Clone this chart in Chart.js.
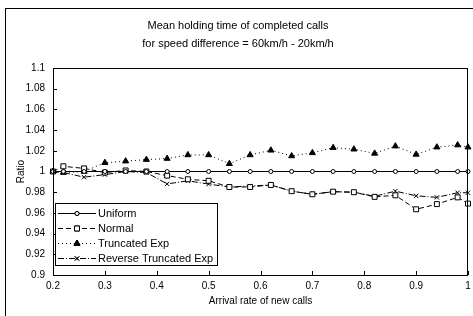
<!DOCTYPE html>
<html lang="en">
<head>
<meta charset="UTF-8">
<title>Mean holding time of completed calls</title>
<script src="https://cdn.jsdelivr.net/npm/chart.js"></script>
<style>
  html, body { margin: 0; padding: 0; background: #fff; }
  #wrap { width: 473px; height: 316px; }
</style>
</head>
<body>
<div id="wrap"><canvas id="grafico"></canvas></div>
<script>
// arrival rate of new calls
const arrivalRate = [0.2, 0.22, 0.26, 0.30, 0.34, 0.38, 0.42, 0.46, 0.50, 0.54, 0.58,
                     0.62, 0.66, 0.70, 0.74, 0.78, 0.82, 0.86, 0.90, 0.94, 0.98, 1.0];

const uniform = [1, 1, 1, 1, 1, 1, 1, 1, 1, 1, 1, 1, 1, 1, 1, 1, 1, 1, 1, 1, 1, 1];
const normal = [1.0, 1.005, 1.003, 0.999, 1.001, 1.0, 0.996, 0.9925, 0.991, 0.985, 0.985,
                0.987, 0.981, 0.978, 0.9805, 0.98, 0.9755, 0.977, 0.9635, 0.9685, 0.975, 0.969];
const truncatedExp = [1.0, 0.999, 1.0, 1.0085, 1.01, 1.0115, 1.0125, 1.016, 1.016, 1.0075, 1.016,
                      1.0205, 1.015, 1.018, 1.023, 1.0215, 1.0175, 1.0245, 1.0165, 1.0235, 1.0255, 1.0235];
const reverseTruncatedExp = [1.0, 0.999, 0.9945, 0.997, 1.0, 0.999, 0.988, 0.991, 0.9878, 0.985, 0.986,
                             0.987, 0.981, 0.978, 0.9805, 0.98, 0.976, 0.981, 0.9765, 0.975, 0.9795, 0.9795];

const seriesNames = ['Uniform', 'Normal', 'Truncated Exp', 'Reverse Truncated Exp'];
const xTicks = [0.2, 0.3, 0.4, 0.5, 0.6, 0.7, 0.8, 0.9, 1];
const yTicks = [0.9, 0.92, 0.94, 0.96, 0.98, 1, 1.02, 1.04, 1.06, 1.08, 1.1];

const fonte = "'Liberation Sans', Arial, sans-serif";

function pares(valores) {
    return arrivalRate.map((x, i) => ({ x: x, y: valores[i] }));
}

// outer frame of the chart
const moldura = {
    id: 'moldura',
    beforeDraw(chart) {
        const ctx = chart.ctx;
        ctx.save();
        ctx.fillStyle = '#fff';
        ctx.fillRect(0, 0, chart.width, chart.height);
        ctx.strokeStyle = '#000';
        ctx.lineWidth = 1;
        ctx.strokeRect(5.5, 8.5, chart.width + 10, chart.height + 10);
        ctx.restore();
    },
    afterDatasetsDraw(chart) {
        const a = chart.chartArea;
        const ctx = chart.ctx;
        ctx.save();
        ctx.strokeStyle = '#000';
        ctx.lineWidth = 1;
        ctx.setLineDash([]);
        ctx.strokeRect(Math.round(a.left) + 0.5, Math.round(a.top) + 0.5,
                       Math.round(a.right - a.left) - 1, Math.round(a.bottom - a.top));
        // inner tick marks
        const sx = chart.scales.x, sy = chart.scales.y;
        ctx.beginPath();
        sy.ticks.forEach(t => {
            const y = Math.round(sy.getPixelForValue(t.value)) + 0.5;
            ctx.moveTo(a.left, y);
            ctx.lineTo(a.left + 4, y);
        });
        sx.ticks.forEach(t => {
            const x = Math.round(sx.getPixelForValue(t.value)) + 0.5;
            ctx.moveTo(x, a.bottom);
            ctx.lineTo(x, a.bottom - 4);
        });
        ctx.stroke();
        ctx.restore();
    }
};

// legend box inside the plot
const legenda = {
    id: 'legenda',
    afterDraw(chart) {
        const ctx = chart.ctx;
        const box = { x: 55.5, y: 203.5, w: 162, h: 62 };
        ctx.save();
        ctx.fillStyle = '#fff';
        ctx.fillRect(box.x, box.y, box.w, box.h);
        ctx.strokeStyle = '#000';
        ctx.lineWidth = 1;
        ctx.setLineDash([]);
        ctx.strokeRect(box.x, box.y, box.w, box.h);
        ctx.font = '11px ' + fonte;
        ctx.textBaseline = 'middle';
        chart.data.datasets.forEach((ds, i) => {
            const y = 213.5 + i * 15;
            ctx.strokeStyle = '#000';
            ctx.setLineDash(ds.borderDash || []);
            ctx.beginPath();
            ctx.moveTo(58, y);
            ctx.lineTo(96, y);
            ctx.stroke();
            ctx.setLineDash([]);
            Chart.helpers.drawPoint(ctx, {
                pointStyle: ds.pointStyle,
                radius: ds.pointRadius,
                rotation: 0,
                borderWidth: 1
            }, 77, y);
            ctx.fillStyle = ds.pointBackgroundColor;
            ctx.strokeStyle = '#000';
            ctx.fill();
            ctx.stroke();
            ctx.fillStyle = '#000';
            ctx.fillText(ds.label, 98, y + 0.5);
        });
        ctx.restore();
    }
};

const base = {
    borderColor: '#000',
    borderWidth: 1,
    pointBorderColor: '#000',
    pointBorderWidth: 1,
    tension: 0,
    fill: false,
    clip: 6
};

new Chart(document.getElementById('grafico'), {
    type: 'line',
    data: {
        datasets: [
            Object.assign({}, base, { label: seriesNames[0], data: pares(uniform),
                pointStyle: 'circle', pointRadius: 2, pointBackgroundColor: '#fff' }),
            Object.assign({}, base, { label: seriesNames[1], data: pares(normal), borderDash: [5, 3],
                pointStyle: 'rect', pointRadius: 3.5, pointBackgroundColor: '#fff' }),
            Object.assign({}, base, { label: seriesNames[2], data: pares(truncatedExp), borderDash: [1, 3],
                pointStyle: 'triangle', pointRadius: 3.5, pointBackgroundColor: '#000' }),
            Object.assign({}, base, { label: seriesNames[3], data: pares(reverseTruncatedExp), borderDash: [6, 2, 1, 2],
                pointStyle: 'crossRot', pointRadius: 3, pointBackgroundColor: '#000' })
        ]
    },
    options: {
        responsive: true,
        maintainAspectRatio: false,
        animation: false,
        devicePixelRatio: 1,
        layout: { padding: { left: 5, right: 2, top: 0, bottom: 0 } },
        plugins: {
            legend: { display: false },
            tooltip: { enabled: false },
            title: {
                display: true,
                text: ['Mean holding time of completed calls', 'for speed difference = 60km/h - 20km/h'],
                color: '#000',
                font: { family: fonte, size: 11, weight: 'normal', lineHeight: 18 / 11 },
                padding: { top: 17, bottom: 15 }
            }
        },
        scales: {
            x: {
                type: 'linear',
                min: 0.2,
                max: 1,
                afterBuildTicks: s => { s.ticks = xTicks.map(v => ({ value: v })); },
                afterFit: s => { s.height = 41; s.paddingLeft = 0; s.paddingRight = 0; },
                grid: { display: false, drawTicks: false },
                border: { display: false },
                ticks: {
                    color: '#000', padding: 5, maxRotation: 0, autoSkip: false,
                    font: { family: fonte, size: 10 },
                    callback: v => String(Number(v.toFixed(2)))
                },
                title: {
                    display: true, text: 'Arrival rate of new calls', color: '#000',
                    font: { family: fonte, size: 10 }, padding: { top: 2, bottom: 9 }
                }
            },
            y: {
                type: 'linear',
                min: 0.9,
                max: 1.1,
                afterBuildTicks: s => { s.ticks = yTicks.map(v => ({ value: v })); },
                afterFit: s => { s.width = 48; s.paddingTop = 0; s.paddingBottom = 0; },
                grid: { display: false, drawTicks: false },
                border: { display: false },
                ticks: {
                    color: '#000', padding: 8, autoSkip: false,
                    font: { family: fonte, size: 10 },
                    callback: v => String(Number(v.toFixed(2)))
                },
                title: {
                    display: true, text: 'Ratio', color: '#000',
                    font: { family: fonte, size: 10 }, padding: { top: 10, bottom: 0 }
                }
            }
        }
    },
    plugins: [moldura, legenda]
});
</script>
</body>
</html>
